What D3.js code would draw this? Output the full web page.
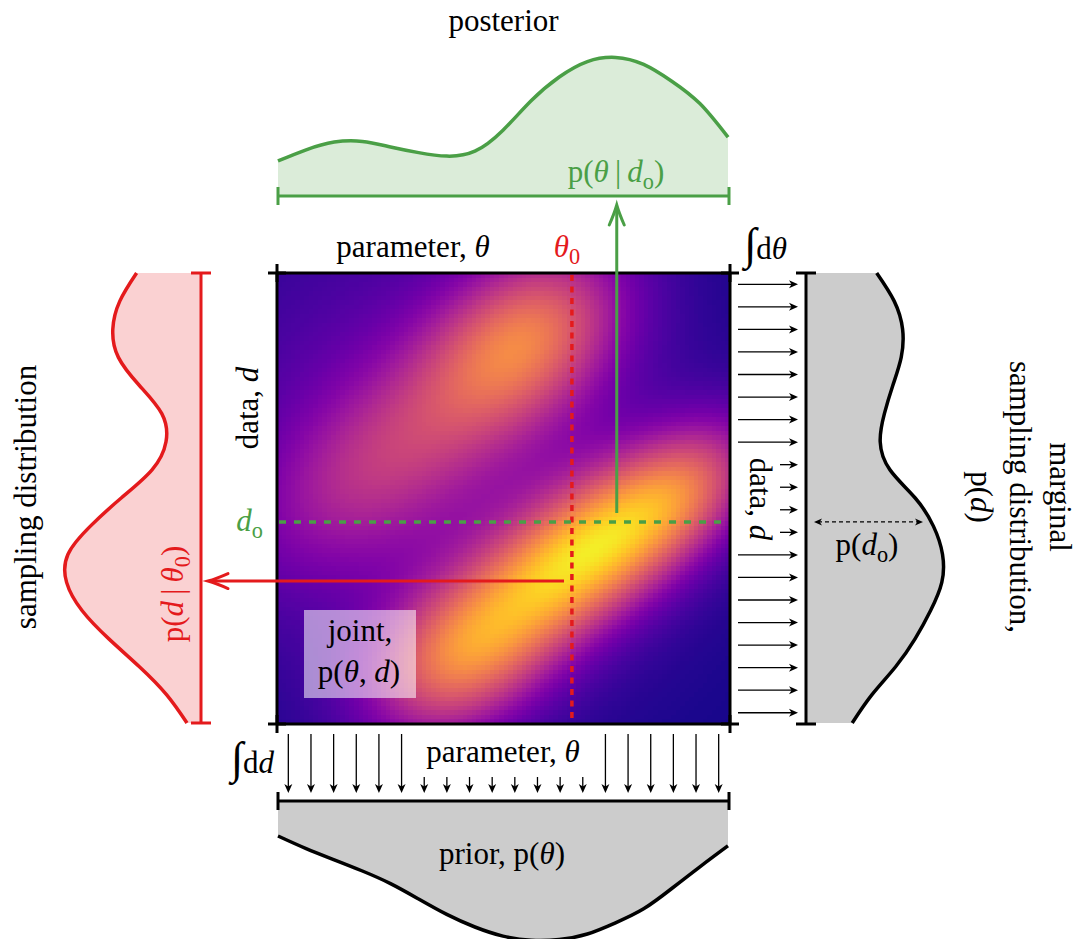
<!DOCTYPE html>
<html><head><meta charset="utf-8">
<script src="https://cdn.jsdelivr.net/npm/d3@7"></script>
<style>
html,body{margin:0;padding:0;background:#fff;}
svg{display:block;}
text{font-family:"Liberation Serif","Times New Roman",serif;}
</style>
</head><body>
<svg id="c" width="1080" height="939"></svg>
<script>
// ---------------- data ----------------
const gridPos = [0,0.0625,0.125,0.1875,0.25,0.3125,0.375,0.4375,0.5,0.5625,0.625,0.6875,0.75,0.8125,0.875,0.9375,1];
const posterior = [0.25,0.33,0.385,0.39,0.35,0.31,0.285,0.32,0.47,0.68,0.85,0.96,0.99,0.94,0.82,0.66,0.42];
const prior = [0.25,0.34,0.42,0.50,0.59,0.70,0.81,0.90,0.965,0.995,0.99,0.95,0.87,0.77,0.625,0.47,0.32];
const samplingDist = [0.46,0.58,0.63,0.59,0.44,0.28,0.25,0.35,0.57,0.79,0.95,0.96,0.85,0.66,0.44,0.245,0.10];
const marginal = [0.505,0.63,0.69,0.68,0.62,0.56,0.53,0.60,0.78,0.91,0.975,0.97,0.89,0.78,0.64,0.47,0.33];
// joint density: gaussian components (theta, data in unit square; data axis downward)
const blobTheta = [0.691,0.404,0.550,0.220,0.912,0.35];
const blobData  = [0.619,0.858,0.145,0.420,0.470,0.40];
const blobSigmaAlong  = [0.20,0.155,0.17,0.22,0.133,0.38];
const blobSigmaAcross = [0.10,0.11,0.115,0.12,0.088,0.38];
const blobAngle  = [35,33,40,38,40,0];
const blobWeight = [0.78,0.52,0.52,0.24,0.30,0.22];
const theta0 = 0.651;
const dObs = 0.552;
const redArrowD = 0.683;
const greenArrowTheta = 0.75;
const nArrows = 20;
const bottomShort = [6,7,8,9,10,11,12,13];
const rightShort = [8,9,10,11];

// ---------------- setup ----------------
const svg = d3.select('#c');
const X0=277, X1=730, Y0=273, Y1=724;
const xT = d3.scaleLinear().domain([0,1]).range([X0,X1]);
const yD = d3.scaleLinear().domain([0,1]).range([Y0,Y1]);
const GREEN = '#4a9f46', RED = '#e41a1c';
const FS = 31;

function joint(u,v){
  let s=0;
  for(let k=0;k<blobTheta.length;k++){
    const a0 = blobAngle[k]*Math.PI/180;
    const dx=u-blobTheta[k], dy=v-blobData[k];
    const a = dx*Math.cos(a0) - dy*Math.sin(a0);
    const b = dx*Math.sin(a0) + dy*Math.cos(a0);
    s += blobWeight[k]*Math.exp(-0.5*(a*a/(blobSigmaAlong[k]**2) + b*b/(blobSigmaAcross[k]**2)));
  }
  return s;
}

// heatmap
const N=100;
const cells=[];
for(let j=0;j<N;j++) for(let i=0;i<N;i++) cells.push({i,j,val:joint((i+0.5)/N,(j+0.5)/N)});
const color = d3.scaleSequential(d3.interpolatePlasma).domain([0,1]).clamp(true);
svg.append('g').attr('shape-rendering','crispEdges')
  .selectAll('rect').data(cells).join('rect')
  .attr('x',d=>xT(d.i/N)).attr('y',d=>yD(d.j/N))
  .attr('width',(X1-X0)/N+0.7).attr('height',(Y1-Y0)/N+0.7)
  .attr('fill',d=>color(d.val));

// helpers
function bar(x1,y1,x2,y2,col,cap,w){
  const g=svg.append('g').attr('stroke',col).attr('stroke-width',w||3);
  g.append('line').attr('x1',x1).attr('y1',y1).attr('x2',x2).attr('y2',y2);
  if(y1===y2){
    g.append('line').attr('x1',x1).attr('x2',x1).attr('y1',y1-cap).attr('y2',y1+cap);
    g.append('line').attr('x1',x2).attr('x2',x2).attr('y1',y2-cap).attr('y2',y2+cap);
  } else {
    g.append('line').attr('y1',y1).attr('y2',y1).attr('x1',x1-cap).attr('x2',x1+cap);
    g.append('line').attr('y1',y2).attr('y2',y2).attr('x1',x2-cap).attr('x2',x2+cap);
  }
}
function stealth(x,y,ang,L,Wd,col){
  svg.append('path').attr('d',`M0,0 L${-L},${-Wd} L${-0.72*L},0 L${-L},${Wd} Z`)
    .attr('fill',col).attr('transform',`translate(${x},${y}) rotate(${ang})`);
}
function openHead(x,y,ang,L,Wd,col,w){
  svg.append('path').attr('d',`M${-L},${-Wd} Q${-L*0.4},${-Wd*0.3} 0,0 Q${-L*0.4},${Wd*0.3} ${-L},${Wd}`)
    .attr('fill','none').attr('stroke',col).attr('stroke-width',w).attr('stroke-linecap','round')
    .attr('transform',`translate(${x},${y}) rotate(${ang})`);
}
function rich(x,y,parts,opt){
  opt=opt||{};
  const size=opt.size||FS;
  const g=svg.append('g').attr('transform',`translate(${x},${y})`+(opt.rot?` rotate(${opt.rot})`:''));
  const t=g.append('text').attr('x',0).attr('y',0).attr('text-anchor',opt.anchor||'middle')
    .attr('font-size',size).attr('fill',opt.color||'#000');
  let shift=0;
  parts.forEach(p=>{
    const ts=t.append('tspan').text(p.t);
    if(p.it) ts.attr('font-style','italic');
    const target = p.sub ? size*0.22 : 0;
    if(target!==shift){ ts.attr('dy',target-shift); shift=target; }
    if(p.sub) ts.attr('font-size',size*0.72);
    if(p.big) ts.attr('font-size',size*1.45).attr('font-style','italic');
  });
  return t;
}

// ---------------- posterior (top) ----------------
const xP = d3.scaleLinear().domain([0,1]).range([278,728]);
const yPost = d3.scaleLinear().domain([0,1]).range([196,56]);
const cur = d3.curveNatural;
svg.append('path').datum(posterior)
  .attr('d',d3.area().x((d,i)=>xP(gridPos[i])).y0(196).y1(d=>yPost(d)).curve(cur))
  .attr('fill','#dbecd9');
svg.append('path').datum(posterior)
  .attr('d',d3.line().x((d,i)=>xP(gridPos[i])).y(d=>yPost(d)).curve(cur))
  .attr('fill','none').attr('stroke',GREEN).attr('stroke-width',3.5);
bar(278,196,729,196,GREEN,9,3);
rich(616,182,[{t:'p('},{t:'θ',it:true},{t:'\u2009|\u2009'},{t:'d',it:true},{t:'o',sub:true},{t:')'}],{color:GREEN});
rich(503.5,31,[{t:'posterior'}]);

// ---------------- prior (bottom) ----------------
const yPr = d3.scaleLinear().domain([0,1]).range([801,941]);
svg.append('path').datum(prior)
  .attr('d',d3.area().x((d,i)=>xP(gridPos[i])).y0(801).y1(d=>yPr(d)).curve(cur))
  .attr('fill','#cccccc');
svg.append('path').datum(prior)
  .attr('d',d3.line().x((d,i)=>xP(gridPos[i])).y(d=>yPr(d)).curve(cur))
  .attr('fill','none').attr('stroke','#000').attr('stroke-width',3.5);
bar(278,801,729,801,'#000',9,3);
rich(502,864,[{t:'prior, p('},{t:'θ',it:true},{t:')'}]);

// ---------------- sampling distribution (left) ----------------
const yS = d3.scaleLinear().domain([0,1]).range([273,723]);
const xS = d3.scaleLinear().domain([0,1]).range([201,61]);
svg.append('path').datum(samplingDist)
  .attr('d',d3.area().y((d,i)=>yS(gridPos[i])).x0(201).x1(d=>xS(d)).curve(cur))
  .attr('fill','#fad1d2');
svg.append('path').datum(samplingDist)
  .attr('d',d3.line().y((d,i)=>yS(gridPos[i])).x(d=>xS(d)).curve(cur))
  .attr('fill','none').attr('stroke',RED).attr('stroke-width',3.5);
bar(201,273,201,723,RED,10,3);
rich(183,594,[{t:'p('},{t:'d',it:true},{t:'\u2009|\u2009'},{t:'θ',it:true},{t:'0',sub:true},{t:')'}],{rot:-90,color:RED});
rich(36,497,[{t:'sampling distribution'}],{rot:-90});

// ---------------- marginal (right) ----------------
const xM = d3.scaleLinear().domain([0,1]).range([806,946]);
svg.append('path').datum(marginal)
  .attr('d',d3.area().y((d,i)=>yS(gridPos[i])).x0(806).x1(d=>xM(d)).curve(cur))
  .attr('fill','#cccccc');
svg.append('path').datum(marginal)
  .attr('d',d3.line().y((d,i)=>yS(gridPos[i])).x(d=>xM(d)).curve(cur))
  .attr('fill','none').attr('stroke','#000').attr('stroke-width',3.5);
bar(806,273,806,724,'#000',10,3);
// dashed p(d_o)
const yo = yD(dObs);
svg.append('line').attr('x1',818).attr('x2',919).attr('y1',yo).attr('y2',yo)
  .attr('stroke','#000').attr('stroke-width',1.3).attr('stroke-dasharray','4,3');
stealth(814,yo,180,8,3.5,'#000');
stealth(923,yo,0,8,3.5,'#000');
rich(867,555,[{t:'p('},{t:'d',it:true},{t:'o',sub:true},{t:')'}]);
rich(1050,497,[{t:'marginal'}],{rot:90});
rich(1010,497,[{t:'sampling distribution,'}],{rot:90});
rich(971,497,[{t:'p('},{t:'d',it:true},{t:')'}],{rot:90});

// ---------------- integration arrows ----------------
d3.range(nArrows).forEach(k=>{
  const x = xT((k+0.5)/nArrows);
  const y1 = bottomShort.includes(k) ? 777 : 734;
  svg.append('line').attr('x1',x).attr('x2',x).attr('y1',y1).attr('y2',788).attr('stroke','#000').attr('stroke-width',1.3);
  stealth(x,793,90,9,4,'#000');
  const y = yD((k+0.5)/nArrows);
  const x1 = rightShort.includes(k) ? 780 : 738;
  svg.append('line').attr('x1',x1).attr('x2',793).attr('y1',y).attr('y2',y).attr('stroke','#000').attr('stroke-width',1.3);
  stealth(798,y,0,9,4,'#000');
});
rich(503,762,[{t:'parameter, '},{t:'θ',it:true}]);
rich(750,499,[{t:'data, '},{t:'d',it:true}],{rot:90});
rich(274,773,[{t:'∫',big:true},{t:'d'},{t:'d',it:true}],{anchor:'end'});
rich(744,259,[{t:'∫',big:true},{t:'d'},{t:'θ',it:true}],{anchor:'start'});

// ---------------- frame & labels ----------------
bar(X0,Y0,X1,Y0,'#000',9,3);
bar(X0,Y1,X1,Y1,'#000',9,3);
bar(X0,Y0,X0,Y1,'#000',9,3);
bar(X1,Y0,X1,Y1,'#000',9,3);
rich(413,257,[{t:'parameter, '},{t:'θ',it:true}]);
rich(567,257,[{t:'θ',it:true},{t:'0',sub:true}],{color:RED});
rich(258,408,[{t:'data, '},{t:'d',it:true}],{rot:-90});
rich(263,531,[{t:'d',it:true},{t:'o',sub:true}],{anchor:'end',color:GREEN});

// conditioning lines
const xt0 = xT(theta0);
svg.append('line').attr('x1',xt0).attr('x2',xt0).attr('y1',Y0+2).attr('y2',Y1-1)
  .attr('stroke',RED).attr('stroke-width',3.5).attr('stroke-dasharray','6,5.5');
svg.append('line').attr('x1',X0+2).attr('x2',X1-1).attr('y1',yo).attr('y2',yo)
  .attr('stroke',GREEN).attr('stroke-width',3.5).attr('stroke-dasharray','7,8');
// red arrow
const yr = yD(redArrowD);
svg.append('line').attr('x1',564).attr('x2',210).attr('y1',yr).attr('y2',yr).attr('stroke',RED).attr('stroke-width',3);
openHead(208,yr,180,20,7.5,RED,3);
// green arrow
const xg = xT(greenArrowTheta);
svg.append('line').attr('x1',xg).attr('x2',xg).attr('y1',513).attr('y2',207).attr('stroke',GREEN).attr('stroke-width',3);
openHead(xg,205,-90,20,7.5,GREEN,3);

// joint label
svg.append('rect').attr('x',304).attr('y',610).attr('width',112).attr('height',88).attr('fill','#fff').attr('fill-opacity',0.55);
rich(360,641,[{t:'joint,'}]);
rich(359,682,[{t:'p('},{t:'θ',it:true},{t:', '},{t:'d',it:true},{t:')'}]);
</script>
</body></html>
